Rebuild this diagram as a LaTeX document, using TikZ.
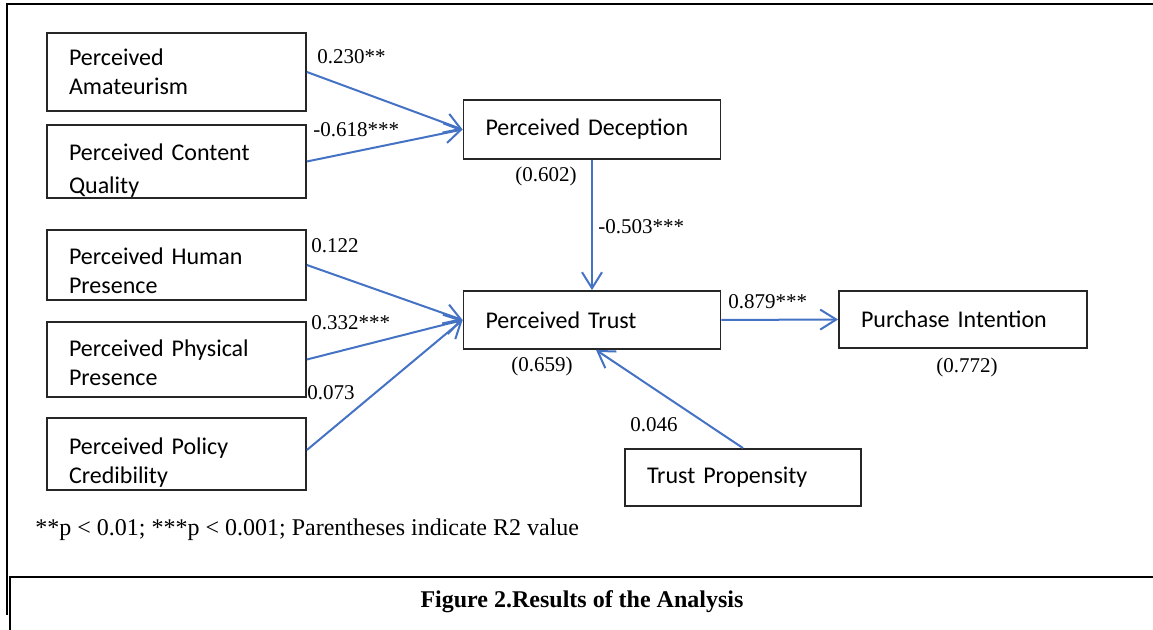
\documentclass[tikz,border=0pt]{standalone}
\usepackage{fontspec}
\setmainfont{Liberation Serif}
\newfontfamily\boxfont{Carlito}
\usetikzlibrary{positioning, arrows.meta}
\definecolor{pathblue}{RGB}{68,114,196}
\tikzset{construct/.style={draw=black!85, line width=0.9pt, align=left, inner xsep=11pt, inner ysep=0pt,
                           font=\boxfont\fontsize{12}{14.5}\selectfont},
         path/.style={draw=pathblue, line width=1pt, -{Straight Barb[length=8pt,width=10pt]}},
         coef/.style={anchor=west, inner sep=0pt, font=\fontsize{10.5}{12}\selectfont},
        }

\begin{document}
\begin{tikzpicture}[x=0.5pt, y=-0.5pt]
        \useasboundingbox (0,0) rectangle (1153,630);
        % frame
        \draw[line width=1pt](7,615)--(7,4.5)--(1153,4.5);
        \draw[line width=1pt](9.5,630)--(9.5,577.5)--(1153,577.5);

        \node[construct, text width=107.5pt, minimum height=39pt](pa)at(176.5,72){Perceived\\Amateurism};
        \node[construct, text width=107.5pt, minimum height=36.5pt](pcq)at(176.5,161.5){\rule{0pt}{17pt}Perceived Content\\[2pt]Quality};
        \node[construct, text width=107.5pt, minimum height=35pt](php)at(176.5,265){\rule{0pt}{14pt}Perceived Human\\Presence};
        \node[construct, text width=107.5pt, minimum height=37.5pt](ppp)at(176.5,359.5){\rule{0pt}{12pt}Perceived Physical\\Presence};
        \node[construct, text width=107.5pt, minimum height=36pt](ppc)at(176.5,454){\rule{0pt}{17pt}Perceived Policy\\Credibility};

        \node[construct, text width=106.5pt, minimum height=29.5pt](pd)at(592,129.5){Perceived Deception};
        \node[construct, text width=106.5pt, minimum height=29pt](pt)at(592,320){Perceived Trust};
        \node[construct, text width=102pt, minimum height=28.5pt](pi)at(963,319.5){Purchase Intention};
        \node[construct, text width=96pt, minimum height=28.5pt](tp)at(743,477.5){Trust Propensity};

        \draw[path](pa.east)--(pd.west);
        \draw[path](pcq.east)--(pd.west);
        \draw[path](php.east)--(pt.west);
        \draw[path](ppp.east)--(pt.west);
        \draw[path]([yshift=2pt]ppc.east)--(pt.west);
        \draw[path](pd.south)--(pt.north);
        \draw[path](pt.east)--(pi.west);
        \draw[path](tp.north)--([xshift=2pt]pt.south);

        \node[coef](c1)at(317,57){0.230**};
        \node[coef](c2)at(313,130){-0.618***};
        \node[coef](r1)at(515,176){(0.602)};
        \node[coef](c3)at(598,227){-0.503***};
        \node[coef](c4)at(311,246){0.122};
        \node[coef](c5)at(311,323){0.332***};
        \node[coef](c6)at(307,393){0.073};
        \node[coef](c7)at(728,302){0.879***};
        \node[coef](r2)at(511,366){(0.659)};
        \node[coef](r3)at(936,367){(0.772)};
        \node[coef](c8)at(630,425){0.046};

        \node[anchor=west, inner sep=0pt, font=\fontsize{12}{14}\selectfont](note)at(35,530){**p < 0.01; ***p < 0.001; Parentheses indicate R2 value};
        \node[inner sep=0pt, font=\bfseries\fontsize{12}{14}\selectfont](caption)at(582,602){Figure 2.Results of the Analysis};
    \end{tikzpicture}
\end{document}
